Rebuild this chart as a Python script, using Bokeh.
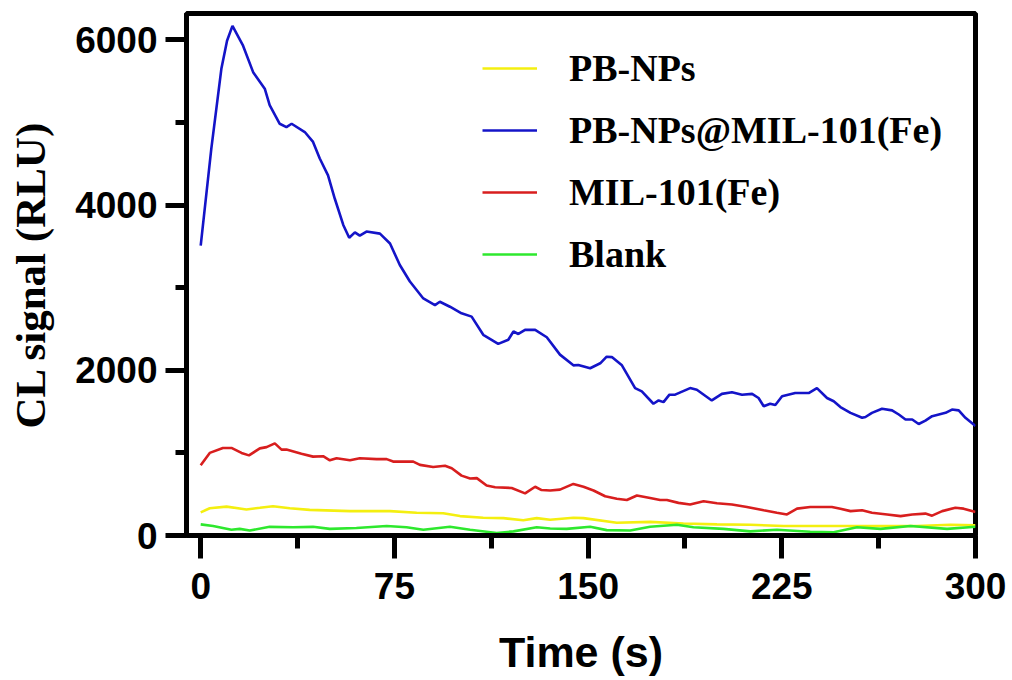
from bokeh.plotting import figure
from bokeh.models import FixedTicker, Range1d, Legend, LegendItem
from bokeh.embed import file_html
from bokeh.resources import INLINE

# ---- data ----
t_blue = [0, 4.1, 8, 10.2, 12.3, 16.4, 20.3, 24.8, 26.7, 30.6, 33.2, 35.2, 40.3, 43.5, 46.1,
          49.3, 51.9, 55.2, 57.5, 59.7, 61.6, 64.2, 69.4, 73.3, 77.1, 81, 86.2, 90.7, 92.6,
          96.5, 101, 104.9, 109.4, 115.2, 119.1, 121.1, 123, 125.6, 129.5, 134, 139.1, 144.3,
          146.2, 150.8, 154.7, 157.2, 159.2, 163.1, 168.2, 170.8, 175.3, 177.3, 179.2, 181.5,
          183.7, 189.5, 192.1, 197.9, 201.8, 205.7, 209.6, 213.5, 216, 218, 220.5, 222.5,
          225.1, 230.2, 235.4, 238.6, 242.5, 245.1, 247.7, 251.6, 256.1, 257.4, 259.9, 263.8,
          267.7, 270.3, 272.9, 275.5, 278, 280.6, 283.2, 288.4, 290.9, 293.5, 296.1, 300]
v_blue = [3510, 4680, 5650, 5990, 6170, 5930, 5610, 5410, 5210, 4985, 4945, 4985, 4885, 4765, 4565,
          4360, 4080, 3760, 3605, 3670, 3630, 3680, 3655, 3535, 3275, 3075, 2870, 2790, 2830,
          2770, 2690, 2650, 2430, 2320, 2370, 2470, 2440, 2490, 2490, 2400, 2190, 2060,
          2065, 2025, 2085, 2165, 2160, 2060, 1785, 1745, 1595, 1635, 1615, 1705,
          1705, 1785, 1765, 1635, 1715, 1735, 1705, 1715, 1665, 1565, 1595, 1580,
          1685, 1725, 1725, 1785, 1665, 1625, 1555, 1485, 1425, 1435, 1485, 1535,
          1515, 1465, 1405, 1405, 1350, 1390, 1445, 1485, 1525, 1515, 1425, 1325]

t_red = [0, 3.5, 8.6, 11.9, 15.8, 18.7, 22.9, 25.5, 28.7, 31.3, 33.2, 39, 43.5, 47.4, 50, 52.6,
         57.8, 61.6, 68.1, 72, 74.5, 82.3, 84.9, 90, 94.6, 97.2, 101, 104.3, 106.9, 110.7, 114,
         120.4, 125.6, 129.5, 132, 135.3, 139.1, 144.3, 148.2, 152.1, 156.6, 161.1, 165, 168.9,
         174, 177.9, 180.5, 185, 189.5, 194.7, 199.9, 205.7, 211.5, 218, 223.1, 227, 230.9, 236,
         244.4, 247.7, 251.6, 256.1, 259.9, 265.8, 271, 275.5, 280.6, 283.2, 287.1, 292.2,
         295.4, 300]
v_red = [850, 1000, 1060, 1060, 1000, 970, 1055, 1070, 1115, 1040, 1040, 990, 955, 960, 910, 935,
         910, 935, 925, 925, 895, 895, 855, 830, 845, 815, 725, 690, 695, 605, 585,
         575, 510, 590, 550, 545, 555, 625, 590, 545, 475, 445, 430, 485,
         455, 430, 430, 395, 375, 415, 390, 375, 345, 305, 275, 255, 325, 345,
         345, 325, 295, 305, 275, 255, 235, 255, 265, 240, 295, 335,
         325, 285]

t_yellow = [0, 3.5, 10, 17.7, 22.9, 28, 34.5, 42.2, 57.8, 73.3, 83.6, 93.9, 100.4, 109.4, 117.2,
            124.9, 130.1, 135.3, 144.3, 148.2, 161.1, 174, 186.9, 199.9, 212.8, 225.7, 238.6,
            251.6, 264.5, 277.4, 290.3, 300]
v_yellow = [280, 330, 350, 315, 335, 355, 330, 310, 295, 295, 275, 270, 235, 215, 210,
            185, 210, 190, 215, 210, 155, 165, 145, 135, 130, 115, 115,
            115, 115, 115, 130, 125]

t_green = [0, 4.8, 11.9, 15.1, 19, 26.7, 35.8, 43.5, 50, 60.3, 72, 79.7, 86.2, 96.5, 104.3,
           114.6, 121.1, 130.1, 135.3, 141.7, 150.8, 157.2, 166.3, 174, 184.4, 190.8, 202.4,
           212.8, 223.1, 236, 245.1, 254.1, 263.2, 274.8, 289, 300]
v_green = [135, 115, 70, 80, 60, 105, 100, 105, 80, 90, 115, 100, 70, 105, 70,
           30, 50, 100, 85, 80, 105, 65, 60, 105, 130, 100, 80,
           50, 70, 45, 40, 100, 80, 115, 80, 105]

series_names = ["PB-NPs", "PB-NPs@MIL-101(Fe)", "MIL-101(Fe)", "Blank"]
series_colors = ["#f4ef10", "#1414c8", "#d81e1e", "#2ee82e"]

x_ticks = [0, 75, 150, 225, 300]
x_minor = [37.5, 112.5, 187.5, 262.5]
y_ticks = [0, 2000, 4000, 6000]
y_minor = [1000, 3000, 5000]

# ---- figure ----
p = figure(width=1010, height=678, output_backend="svg", toolbar_location=None,
           x_range=Range1d(-5.5, 300), y_range=Range1d(0, 6320),
           min_border_left=186, min_border_right=35, min_border_top=13, min_border_bottom=140)
p.grid.visible = False
p.outline_line_color = "black"
p.outline_line_width = 5
p.outline_line_alpha = 1

xs = [t_yellow, t_blue, t_red, t_green]
ys = [v_yellow, v_blue, v_red, v_green]
renderers = []
for x, y, c in zip(xs, ys, series_colors):
    renderers.append(p.line(x, y, line_color=c, line_width=2.6))

# axes
for ax in (p.xaxis[0], p.yaxis[0]):
    ax.axis_line_width = 5
    ax.axis_line_color = "black"
    ax.major_tick_in = 0
    ax.minor_tick_in = 0
    ax.major_tick_line_width = 5
    ax.minor_tick_line_width = 5
    ax.major_label_text_font = "Liberation Sans"
    ax.major_label_text_font_style = "bold"
    ax.major_label_text_font_size = "37px"
    ax.major_label_text_color = "black"

p.xaxis.ticker = FixedTicker(ticks=x_ticks, minor_ticks=x_minor)
p.yaxis.ticker = FixedTicker(ticks=y_ticks, minor_ticks=y_minor)
p.xaxis.major_tick_out = 23
p.xaxis.minor_tick_out = 13
p.yaxis.major_tick_out = 21
p.yaxis.minor_tick_out = 11
p.xaxis.major_label_standoff = 14
p.yaxis.major_label_standoff = 8

p.xaxis.axis_label = "Time (s)"
p.xaxis.axis_label_text_font = "Liberation Sans"
p.xaxis.axis_label_text_font_style = "bold"
p.xaxis.axis_label_text_font_size = "43px"
p.xaxis.axis_label_text_color = "black"
p.xaxis.axis_label_standoff = 26

p.yaxis.axis_label = "CL signal (RLU)"
p.yaxis.axis_label_text_font = "Liberation Serif"
p.yaxis.axis_label_text_font_style = "bold"
p.yaxis.axis_label_text_font_size = "43px"
p.yaxis.axis_label_text_color = "black"
p.yaxis.axis_label_standoff = 18

legend = Legend(
    items=[LegendItem(label=n, renderers=[r]) for n, r in zip(series_names, renderers)],
    location=(296, 259), orientation="vertical",
    glyph_width=55, glyph_height=40, label_height=40, spacing=18, label_standoff=32,
    padding=0, margin=0, border_line_alpha=0, background_fill_alpha=0,
    label_text_font="Liberation Serif", label_text_font_style="bold",
    label_text_font_size="38px", label_text_color="black",
)
p.add_layout(legend)

open("out.html", "w").write(file_html(p, INLINE))
